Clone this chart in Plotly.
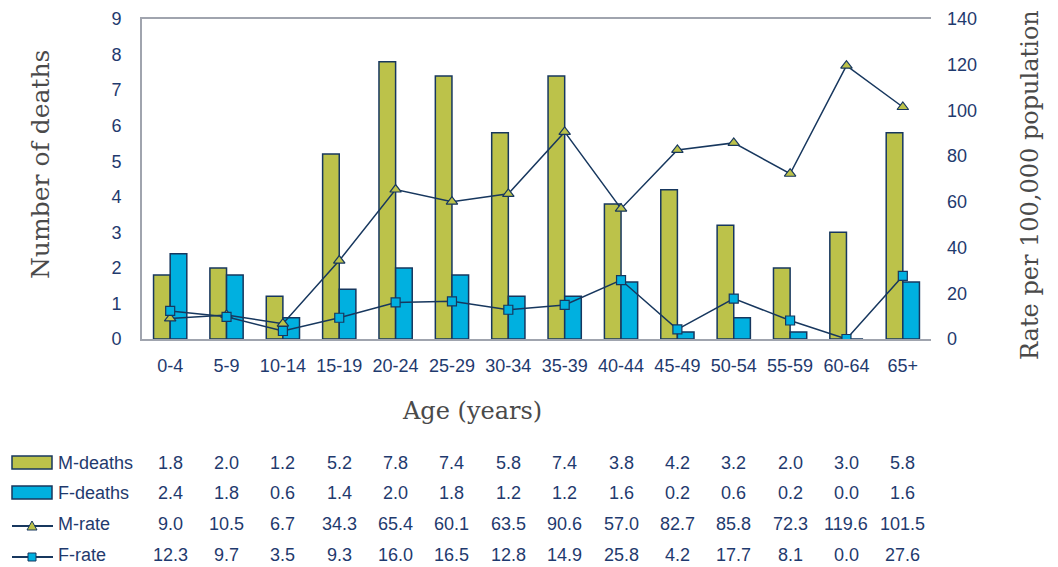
import plotly.graph_objects as go

ages = ["0-4", "5-9", "10-14", "15-19", "20-24", "25-29", "30-34", "35-39",
        "40-44", "45-49", "50-54", "55-59", "60-64", "65+"]
m_deaths = [1.8, 2.0, 1.2, 5.2, 7.8, 7.4, 5.8, 7.4, 3.8, 4.2, 3.2, 2.0, 3.0, 5.8]
f_deaths = [2.4, 1.8, 0.6, 1.4, 2.0, 1.8, 1.2, 1.2, 1.6, 0.2, 0.6, 0.2, 0.0, 1.6]
m_rate = [9.0, 10.5, 6.7, 34.3, 65.4, 60.1, 63.5, 90.6, 57.0, 82.7, 85.8, 72.3, 119.6, 101.5]
f_rate = [12.3, 9.7, 3.5, 9.3, 16.0, 16.5, 12.8, 14.9, 25.8, 4.2, 17.7, 8.1, 0.0, 27.6]
left_ticks = list(range(0, 10))
right_ticks = list(range(0, 141, 20))

OLIVE = "#BCC24A"
CYAN = "#00B0E0"
NAVY = "#17375E"
FRAME = "#A0A4AE"
TXT = "#1F3A6E"
TITLE = "#4A4A4A"

fig = go.Figure()
fig.add_trace(go.Bar(x=ages, y=m_deaths, name="M-deaths", marker=dict(color=OLIVE, line=dict(color=NAVY, width=1.5))))
fig.add_trace(go.Bar(x=ages, y=f_deaths, name="F-deaths", marker=dict(color=CYAN, line=dict(color=NAVY, width=1.5))))
fig.add_trace(go.Scatter(x=ages, y=m_rate, name="M-rate", yaxis="y2", mode="lines+markers",
                         line=dict(color=NAVY, width=1.5),
                         marker=dict(symbol="triangle-up", size=10, color=OLIVE, line=dict(color=NAVY, width=1.2))))
fig.add_trace(go.Scatter(x=ages, y=f_rate, name="F-rate", yaxis="y2", mode="lines+markers",
                         line=dict(color=NAVY, width=1.5),
                         marker=dict(symbol="square", size=9, color=CYAN, line=dict(color=NAVY, width=1.2))))

L, R, T, B = 142, 127, 19, 228
W, H = 1058, 567
PW = W - L - R
PH = H - T - B

def px(X):
    return (X - L) / PW

def py(Y):
    return (H - B - Y) / PH

annotations = []
shapes = []
# axis titles
annotations.append(dict(text="Number of deaths", x=px(40), y=py(165), xref="paper", yref="paper",
                        xanchor="center", yanchor="middle",
                        textangle=-90, showarrow=False, font=dict(family="DejaVu Serif", size=25, color=TITLE)))
annotations.append(dict(text="Rate per 100,000 population", x=px(1030), y=py(185), xref="paper", yref="paper",
                        xanchor="center", yanchor="middle",
                        textangle=-90, showarrow=False, font=dict(family="DejaVu Serif", size=24, color=TITLE)))
annotations.append(dict(text="Age (years)", x=px(472), y=py(411), xref="paper", yref="paper",
                        xanchor="center", yanchor="middle",
                        showarrow=False, font=dict(family="DejaVu Serif", size=24, color=TITLE)))

rows = [("M-deaths", m_deaths, 463), ("F-deaths", f_deaths, 493), ("M-rate", m_rate, 524), ("F-rate", f_rate, 555)]
for label, vals, Y in rows:
    annotations.append(dict(text=label, x=px(56), y=py(Y), xref="paper", yref="paper", xanchor="left",
                            yanchor="middle",
                            showarrow=False, font=dict(family="Liberation Sans, Arial", size=18, color=TXT)))
    for a, v in zip(ages, vals):
        annotations.append(dict(text=f"{v:.1f}", x=a, y=py(Y), xref="x", yref="paper",
                                xanchor="center", yanchor="middle",
                                showarrow=False, font=dict(family="Liberation Sans, Arial", size=18, color=TXT)))

# legend keys
for Y, col in [(463, OLIVE), (493, CYAN)]:
    shapes.append(dict(type="rect", xref="paper", yref="paper", x0=px(12), x1=px(52), y0=py(Y - 7), y1=py(Y + 6),
                       fillcolor=col, line=dict(color=NAVY, width=1.5)))
for Y in (524, 555):
    shapes.append(dict(type="line", xref="paper", yref="paper", x0=px(12), x1=px(53), y0=py(Y + 2), y1=py(Y + 2),
                       line=dict(color=NAVY, width=2)))
# triangle key
cx, cy = 32, 526
shapes.append(dict(type="path", xref="paper", yref="paper",
                   path=f"M {px(cx-5)} {py(cy+4)} L {px(cx+5)} {py(cy+4)} L {px(cx)} {py(cy-5)} Z",
                   fillcolor=OLIVE, line=dict(color=NAVY, width=1)))
cx, cy = 32, 557
shapes.append(dict(type="rect", xref="paper", yref="paper", x0=px(cx-4), x1=px(cx+4), y0=py(cy-4), y1=py(cy+4),
                   fillcolor=CYAN, line=dict(color=NAVY, width=1)))

fig.update_layout(
    width=W, height=H,
    margin=dict(l=L, r=R, t=T, b=B, autoexpand=False),
    paper_bgcolor="white", plot_bgcolor="white",
    showlegend=False,
    barmode="group", bargap=0.41, bargroupgap=0,
    font=dict(family="Liberation Sans, Arial", size=18, color=TXT),
    xaxis=dict(range=[-0.5, len(ages) - 0.5], autorange=False,
               showline=True, linecolor=FRAME, linewidth=2, mirror=True, ticks="", automargin=False,
               tickfont=dict(size=18, color=TXT), ticklabelstandoff=9, showgrid=False),
    yaxis=dict(range=[0, 9], tickvals=left_ticks, showline=True, linecolor=FRAME, linewidth=2, automargin=False,
               showgrid=False, zeroline=False, ticks="", tickfont=dict(size=18, color=TXT), ticklabelstandoff=15),
    yaxis2=dict(range=[0, 140], tickvals=right_ticks, overlaying="y", side="right", showgrid=False, automargin=False,
                zeroline=False, ticks="", showline=False, tickfont=dict(size=18, color=TXT), ticklabelstandoff=15),
    annotations=annotations,
    shapes=shapes,
)

fig.write_html("out.html", config={"displayModeBar": False},
               post_script="document.body.style.margin='0';document.body.style.overflow='hidden';")
